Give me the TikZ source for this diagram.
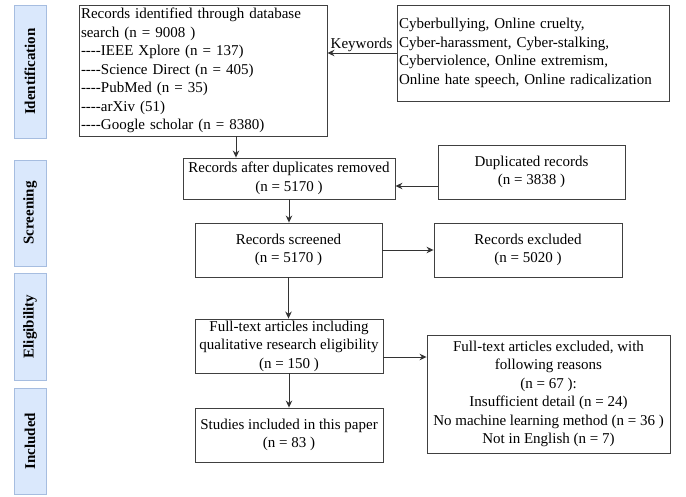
\documentclass[tikz,border=0pt]{standalone}
\usepackage{fontspec}
\setmainfont{Liberation Serif}
\usetikzlibrary{arrows.meta}

\definecolor{stagefill}{RGB}{218,232,252}
\definecolor{stageline}{RGB}{166,189,224}
\newcommand\fourdash{-\kern0pt-\kern0pt-\kern0pt-}

\begin{document}
\begin{tikzpicture}[x=1pt, y=-1pt, >={Stealth[length=7pt,width=6.5pt]},
  font=\fontsize{15}{18.5}\selectfont,
  box/.style={draw=black!75, line width=0.9pt, inner sep=1.5pt, align=center},
  stage/.style={draw=stageline, fill=stagefill, line width=0.9pt, rotate=90,
    minimum height=32pt, font=\fontsize{15}{18}\selectfont\bfseries},
  arr/.style={->, draw=black!80, line width=0.9pt}]
  \useasboundingbox (0,0) rectangle (686,496);

  % ----- stage labels -----
  \node[stage, minimum width=133pt] (ident)  at (30,71.5)  {Identification};
  \node[stage, minimum width=106pt] (screen) at (30,213)   {Screening};
  \node[stage, minimum width=107pt] (elig)   at (30,326.5) {Eligibility};
  \node[stage, minimum width=106pt] (inclst) at (30,441)   {Included};

  % ----- identification -----
  \node[box, minimum width=248pt, minimum height=131pt, text width=244pt, align=left]
    (rec) at (203,70.5)
    {Records identified through database\\
     search (n = 9008 )\\
     \fourdash IEEE Xplore (n = 137)\\
     \fourdash Science Direct (n = 405)\\
     \fourdash PubMed (n = 35)\\
     \fourdash arXiv (51)\\
     \fourdash Google scholar (n = 8380)};
  \node[box, minimum width=272pt, minimum height=96pt, text width=268pt, align=left]
    (kw) at (533,53)
    {Cyberbullying, Online cruelty,\\
     Cyber-harassment, Cyber-stalking,\\
     Cyberviolence, Online extremism,\\
     Online hate speech, Online radicalization};
  \node[anchor=base east, inner sep=0pt] (kwlab) at ([xshift=-4pt,yshift=5pt]kw.west) {Keywords};

  % ----- screening -----
  \node[box, minimum width=212pt, minimum height=41pt] (dupr) at (289,178.5)
    {Records after duplicates removed\\(n = 5170 )};
  \node[box, minimum width=187pt, minimum height=54pt] (dupl) at (531.5,172)
    {Duplicated records\\(n = 3838 )};
  \node[box, minimum width=187pt, minimum height=54pt] (scr) at (288.5,250)
    {Records screened\\(n = 5170 )};
  \node[box, minimum width=188pt, minimum height=54pt] (excl) at (528,250)
    {Records excluded\\(n = 5020 )};

  % ----- eligibility / included -----
  \node[box, minimum width=188pt, minimum height=54pt] (full) at (289,346)
    {Full-text articles including\\qualitative research eligibility\\(n = 150 )};
  \node[box, minimum width=243pt, minimum height=118pt] (fexcl) at (548.5,394)
    {Full-text articles excluded, with\\following reasons\\(n = 67 ):\\
     Insufficient detail (n = 24)\\No machine learning method (n = 36 )\\
     Not in English (n = 7)};
  \node[box, minimum width=188pt, minimum height=54pt] (stud) at (289,435)
    {Studies included in this paper\\(n = 83 )};

  % ----- connectors -----
  \coordinate (a1) at (236,0);
  \coordinate (a2) at (0,186);
  \coordinate (a3) at (0,357);
  \draw[arr] (kw.west) -- (kw.west -| rec.east);
  \draw[arr] (rec.south -| a1) -- (dupr.north -| a1);
  \draw[arr] (dupl.west |- a2) -- (dupr.east |- a2);
  \draw[arr] (dupr.south) -- (dupr.south |- scr.north);
  \draw[arr] (scr.east) -- (scr.east -| excl.west);
  \draw[arr] (scr.south) -- (scr.south |- full.north);
  \draw[arr] (full.east |- a3) -- (fexcl.west |- a3);
  \draw[arr] (full.south) -- (full.south |- stud.north);
\end{tikzpicture}
\end{document}
